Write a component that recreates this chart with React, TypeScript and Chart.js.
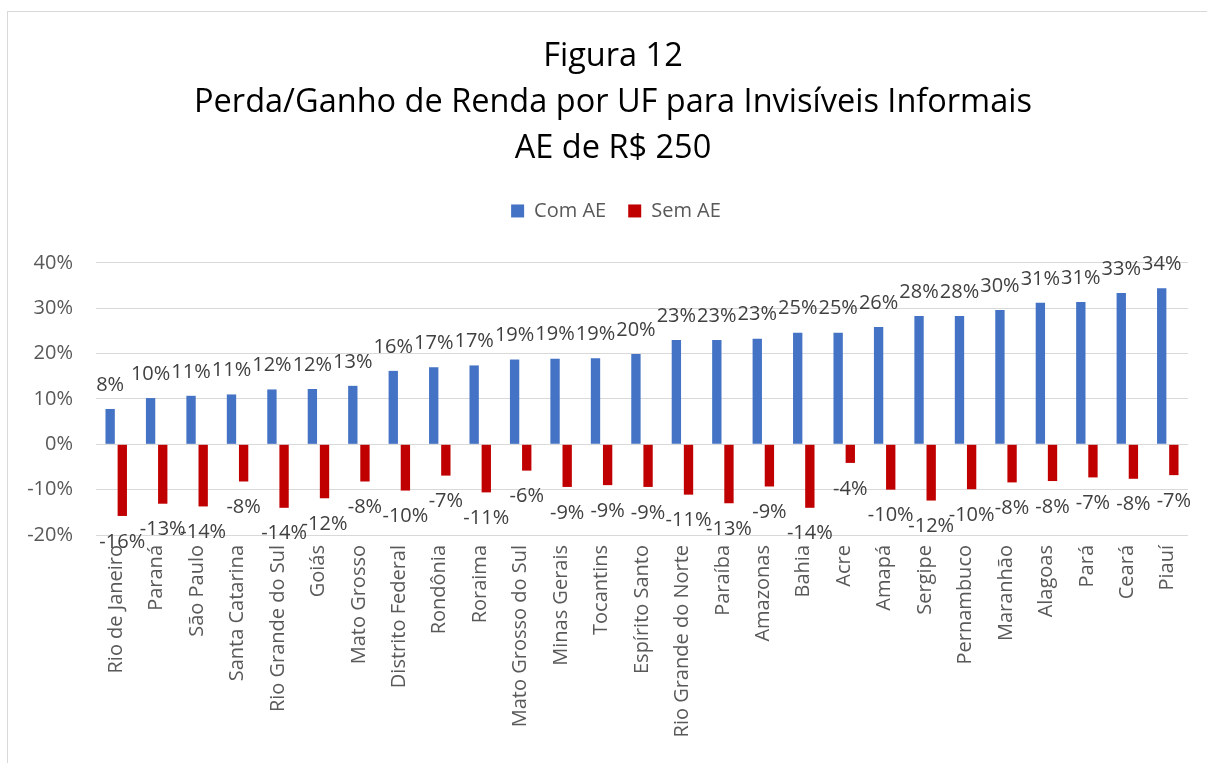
import React, { useEffect, useRef } from "react";
import { Chart, registerables } from "chart.js";

Chart.register(...registerables);

const categories = [
  "Rio de Janeiro", "Paraná", "São Paulo", "Santa Catarina", "Rio Grande do Sul",
  "Goiás", "Mato Grosso", "Distrito Federal", "Rondônia", "Roraima",
  "Mato Grosso do Sul", "Minas Gerais", "Tocantins", "Espírito Santo",
  "Rio Grande do Norte", "Paraíba", "Amazonas", "Bahia", "Acre", "Amapá",
  "Sergipe", "Pernambuco", "Maranhão", "Alagoas", "Pará", "Ceará", "Piauí",
];

const comAE = [
  7.8, 10.2, 10.7, 11.0, 12.1, 12.2, 12.9, 16.2, 17.0, 17.4,
  18.7, 18.9, 19.0, 19.9, 23.0, 23.0, 23.3, 24.6, 24.6, 25.9,
  28.3, 28.3, 29.6, 31.2, 31.4, 33.4, 34.4,
];

const semAE = [
  -15.8, -13.1, -13.7, -8.2, -14.0, -11.9, -8.2, -10.2, -6.9, -10.6,
  -5.8, -9.4, -9.0, -9.4, -11.1, -13.0, -9.3, -14.0, -4.1, -10.0,
  -12.4, -9.9, -8.4, -8.1, -7.3, -7.6, -6.8,
];

const titleLines = [
  "Figura 12",
  "Perda/Ganho de Renda por UF para Invisíveis Informais",
  "AE de R$ 250",
];

const yTicks = { min: -20, max: 40, step: 10 };

const FONT = "'Open Sans', 'Noto Sans', sans-serif";

const dataLabelPlugin = {
  id: "dataLabels",
  afterDatasetsDraw(chart: any) {
    const ctx = chart.ctx;
    ctx.save();
    ctx.font = `20px ${FONT}`;
    ctx.fillStyle = "#404040";
    ctx.textAlign = "center";
    ctx.textBaseline = "middle";
    chart.data.datasets.forEach((ds: any, i: number) => {
      const meta = chart.getDatasetMeta(i);
      meta.data.forEach((bar: any, j: number) => {
        const v = ds.data[j];
        const txt = Math.round(v) + "%";
        const y = v >= 0 ? bar.y - 24 : bar.y + 26;
        ctx.fillText(txt, bar.x, y);
      });
    });
    ctx.restore();
  },
};

const legendSpacer = {
  id: "legendSpacer",
  beforeInit(chart: any) {
    const legend = chart.legend;
    if (!legend) return;
    const orig = legend.fit;
    legend.fit = function () {
      orig.call(this);
      this.height += 32;
    };
  },
  afterLayout(chart: any) {
    // the original figure frame extends past the right edge of the view
    if (chart.titleBlock) {
      chart.titleBlock.left = 0;
      chart.titleBlock.right = 1226;
    }
    if (chart.legend) {
      chart.legend.left = 0;
      chart.legend.right = 1232;
    }
  },
};

export default function App() {
  const ref = useRef<HTMLCanvasElement | null>(null);

  useEffect(() => {
    if (!ref.current) return;
    const chart = new Chart(ref.current, {
      type: "bar",
      data: {
        labels: categories,
        datasets: [
          {
            label: "Com AE",
            data: comAE,
            backgroundColor: "#4472C4",
            categoryPercentage: 0.6,
            barPercentage: 0.77,
          },
          {
            label: "Sem AE",
            data: semAE,
            backgroundColor: "#C00000",
            categoryPercentage: 0.6,
            barPercentage: 0.77,
          },
        ],
      },
      options: {
        responsive: false,
        animation: false,
        layout: { padding: { left: 0, right: 19, top: 0, bottom: 0 } },
        plugins: {
          title: {
            display: true,
            text: titleLines,
            color: "#000000",
            font: { family: FONT, size: 32.5, weight: "normal", lineHeight: 1.415 },
            padding: { top: 34, bottom: 7 },
          },
          legend: {
            display: true,
            position: "top",
            labels: {
              boxWidth: 13,
              boxHeight: 13,
              padding: 22,
              color: "#595959",
              font: { family: FONT, size: 20 },
            },
          },
          tooltip: { enabled: false },
        },
        scales: {
          x: {
            grid: { display: false, drawTicks: false },
            border: { display: false },
            ticks: {
              autoSkip: false,
              minRotation: 90,
              maxRotation: 90,
              padding: 10,
              color: "#595959",
              font: { family: FONT, size: 20 },
            },
            afterFit(scale: any) {
              scale.height = 228;
            },
          },
          y: {
            min: yTicks.min,
            max: yTicks.max,
            grid: { color: "#d9d9d9", lineWidth: 1, drawTicks: false },
            border: { display: false },
            ticks: {
              stepSize: yTicks.step,
              padding: 23,
              color: "#595959",
              font: { family: FONT, size: 20 },
              callback: (v: any) => v + "%",
            },
            afterFit(scale: any) {
              scale.width = 96;
            },
          },
        },
      },
      plugins: [dataLabelPlugin, legendSpacer],
    });
    return () => chart.destroy();
  }, []);

  return (
    <div
      style={{
        position: "fixed",
        left: 0,
        top: 0,
        width: 1207,
        height: 763,
        overflow: "hidden",
        background: "#ffffff",
      }}
    >
      <div
        style={{
          position: "absolute",
          left: 7,
          top: 11,
          width: 1260,
          height: 820,
          border: "1px solid #d9d9d9",
          boxSizing: "border-box",
        }}
      />
      <canvas
        ref={ref}
        width={1207}
        height={763}
        style={{ position: "absolute", left: 0, top: 0, width: 1207, height: 763 }}
      />
    </div>
  );
}
